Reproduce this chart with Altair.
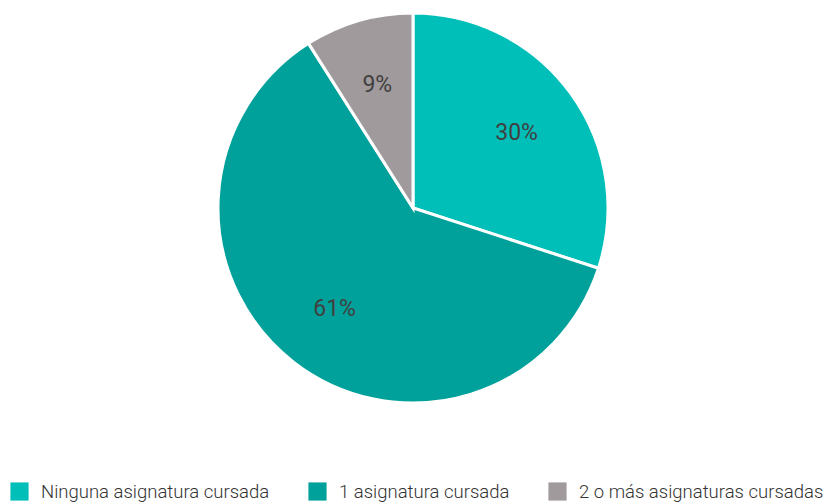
import altair as alt
import pandas as pd

categories = ["Ninguna asignatura cursada", "1 asignatura cursada", "2 o más asignaturas cursadas"]
values = [30, 61, 9]
labels = ["30%", "61%", "9%"]
colors = ["#00BFB8", "#00A19A", "#A09A9C"]

df = pd.DataFrame({
    "cat": categories,
    "val": values,
    "lab": labels,
    "ord": list(range(len(categories))),
})

FONT = "Roboto"

base = alt.Chart(df).encode(
    theta=alt.Theta("val:Q", stack=True),
    order=alt.Order("ord:Q"),
)

pie = base.mark_arc(radius=195, stroke="white", strokeWidth=3).encode(
    x=alt.value(405),
    y=alt.value(200),
    color=alt.Color(
        "cat:N",
        scale=alt.Scale(domain=categories, range=colors),
        sort=categories,
        legend=alt.Legend(
            title=None,
            orient="none",
            legendX=2,
            legendY=474,
            direction="horizontal",
            symbolType="square",
            symbolSize=330,
            symbolStrokeWidth=0,
            labelFont=FONT,
            labelFontSize=18.5,
            labelFontWeight=300,
            labelColor="#333333",
            labelOffset=12,
            columnPadding=38,
            labelLimit=400,
        ),
    ),
)

text = base.mark_text(radius=128, font=FONT, fontSize=23, fontWeight=400, color="#404040").encode(
    x=alt.value(405),
    y=alt.value(200),
    text="lab:N",
)

chart = (pie + text).properties(
    width=819,
    height=494,
    padding=0,
    autosize=alt.AutoSizeParams(type="none"),
).configure_view(stroke=None)

chart.save("out.html", embed_options={"renderer": "svg", "actions": False})
